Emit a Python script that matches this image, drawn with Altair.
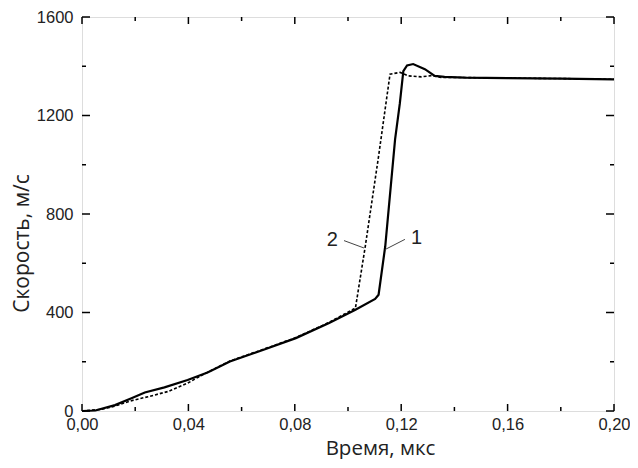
import altair as alt
import pandas as pd

# Curve 1 (solid)
t1 = [0, 0.005, 0.0124, 0.0186, 0.0236, 0.031, 0.0397, 0.0472, 0.0556, 0.068,
      0.0804, 0.0929, 0.1028, 0.1102, 0.1115, 0.114, 0.1177, 0.1195, 0.1208,
      0.1222, 0.1245, 0.1289, 0.1326, 0.1363, 0.1438, 0.16, 0.18, 0.20]
v1 = [0, 2, 24, 52, 75, 96, 126, 156, 201, 248,
      296, 357, 411, 455, 472, 669, 1103, 1250, 1380,
      1403, 1409, 1388, 1361, 1357, 1354, 1352, 1350, 1347]

# Curve 2 (dashed)
t2 = [0, 0.0074, 0.0124, 0.0186, 0.0248, 0.0323, 0.0397, 0.045, 0.0556, 0.068,
      0.0804, 0.0929, 0.1028, 0.1065, 0.1115, 0.1158, 0.1196, 0.1226, 0.1276,
      0.1313, 0.135, 0.145, 0.16, 0.18, 0.20]
v2 = [0, 7, 20, 42, 58, 79, 113, 145, 203, 250,
      298, 360, 418, 669, 1035, 1368, 1375, 1361, 1357,
      1362, 1355, 1354, 1352, 1350, 1347]

# Ticks
x_major = [0.0, 0.04, 0.08, 0.12, 0.16, 0.20]
x_minor = [0.02, 0.06, 0.10, 0.14, 0.18]
y_major = [0, 400, 800, 1200, 1600]
y_minor = [200, 600, 1000, 1400]

# Annotations
lab_text = ["1", "2"]
lab_t = [0.1258, 0.0941]
lab_v = [703, 696]
lead_t = [0.1140, 0.0985]
lead_v = [656, 692]
lead_t2 = [0.1214, 0.1060]
lead_v2 = [697, 662]

W, H = 532, 394

df1 = pd.DataFrame({"t": t1, "v": v1})
df2 = pd.DataFrame({"t": t2, "v": v2})
dlab = pd.DataFrame({"txt": lab_text, "t": lab_t, "v": lab_v})
dlead = pd.DataFrame({"t": lead_t, "v": lead_v, "t2": lead_t2, "v2": lead_v2})

xs = alt.Scale(domain=[0, 0.2], nice=False, zero=False)
ys = alt.Scale(domain=[0, 1600], nice=False)

xaxis = alt.Axis(values=x_major, labelExpr="replace(format(datum.value, '.2f'), '.', ',')",
                 ticks=False, domain=False, grid=False, labelFlush=False, labelOverlap=False,
                 labelFont="Liberation Sans",
                 labelFontSize=16.5, labelColor="#222", labelPadding=5,
                 title="Время, мкс", titleFont="Open Sans", titleFontSize=20.5,
                 titleFontWeight="normal", titleColor="#222",
                 titleX=298, titleY=37, titleBaseline="middle", titleAnchor="middle")
yaxis = alt.Axis(values=y_major, format="d", ticks=False, domain=False, grid=False,
                 labelFlush=False, labelOverlap=False,
                 labelFont="Liberation Sans", labelFontSize=16.5, labelColor="#222",
                 labelPadding=9,
                 title="Скорость, м/с", titleFont="Open Sans", titleFontSize=21,
                 titleFontWeight="normal", titleColor="#222",
                 titleX=-60, titleY=226, titleBaseline="middle", titleAnchor="middle")

line1 = alt.Chart(df1).mark_line(color="black", strokeWidth=2.2).encode(
    x=alt.X("t:Q", scale=xs, axis=xaxis),
    y=alt.Y("v:Q", scale=ys, axis=yaxis),
    order="t:Q",
)
line2 = alt.Chart(df2).mark_line(color="black", strokeWidth=1.6, strokeDash=[3, 2]).encode(
    x=alt.X("t:Q", scale=xs),
    y=alt.Y("v:Q", scale=ys),
    order="t:Q",
)

def xticks(vals, length):
    d = pd.DataFrame({"t": vals})
    b = alt.Chart(d).mark_rule(color="black", strokeWidth=1.5).encode(
        x=alt.X("t:Q", scale=xs), y=alt.value(H), y2=alt.value(H - length))
    t = alt.Chart(d).mark_rule(color="black", strokeWidth=1.5).encode(
        x=alt.X("t:Q", scale=xs), y=alt.value(0), y2=alt.value(length))
    return [b, t]

def yticks(vals, length):
    d = pd.DataFrame({"v": vals})
    l = alt.Chart(d).mark_rule(color="black", strokeWidth=1.5).encode(
        y=alt.Y("v:Q", scale=ys), x=alt.value(0), x2=alt.value(length))
    r = alt.Chart(d).mark_rule(color="black", strokeWidth=1.5).encode(
        y=alt.Y("v:Q", scale=ys), x=alt.value(W), x2=alt.value(W - length))
    return [l, r]

ticks = xticks(x_major, 7) + xticks(x_minor, 4) + yticks(y_major, 8) + yticks(y_minor, 4)

leads = alt.Chart(dlead).mark_rule(color="#444", strokeWidth=1).encode(
    x=alt.X("t:Q", scale=xs), y=alt.Y("v:Q", scale=ys),
    x2="t2:Q", y2="v2:Q")
labels = alt.Chart(dlab).mark_text(font="Liberation Sans", fontSize=20, color="#222",
                                   align="center", baseline="middle").encode(
    x=alt.X("t:Q", scale=xs), y=alt.Y("v:Q", scale=ys), text="txt:N")

chart = alt.layer(line2, line1, leads, labels, *ticks).properties(
    width=W, height=H,
    autosize=alt.AutoSizeParams(type="none"),
    padding={"left": 74, "top": 9, "right": 16, "bottom": 48},
).configure_view(stroke="black", strokeWidth=1.6).configure(background="white")

chart.save("out.html", embed_options={"renderer": "svg", "actions": False})
